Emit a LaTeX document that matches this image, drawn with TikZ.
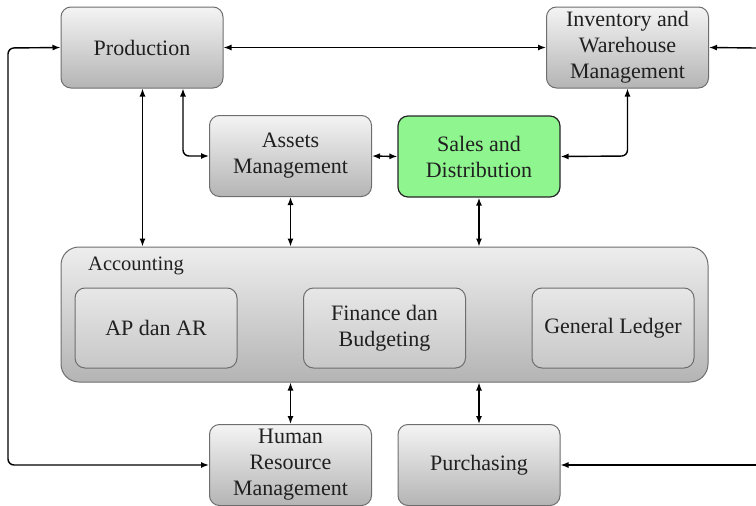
\documentclass[tikz,border=0pt]{standalone}
\usepackage{fontspec}
\setmainfont{LiberationSerif}[Extension=.ttf, UprightFont=*-Regular, BoldFont=*-Bold, ItalicFont=*-Italic, BoldItalicFont=*-BoldItalic]
\newfontfamily\boxfont{LiberationSerif}[Extension=.ttf, UprightFont=*-Regular]
\usetikzlibrary{arrows.meta}
\definecolor{boxtop}{HTML}{F4F4F4}
\definecolor{boxbot}{HTML}{B4B4B4}
\definecolor{boxline}{HTML}{6E6E6E}
\definecolor{salesfill}{HTML}{8FF58F}
\definecolor{inktext}{HTML}{202020}
\begin{document}
\begin{tikzpicture}[x=1pt,y=-1pt,
  every node/.style={font=\boxfont\fontsize{22}{26}\selectfont, text=inktext, align=center, inner sep=0pt},
  module/.style={draw=boxline, line width=1pt, rounded corners=10pt,
    top color=boxtop, bottom color=boxbot, minimum width=162pt, minimum height=81pt},
  focus/.style={draw=black!85, line width=1.2pt, rounded corners=10pt,
    fill=salesfill, minimum width=162pt, minimum height=81pt},
  group/.style={draw=boxline, line width=1pt, rounded corners=18pt,
    top color=boxtop!90!boxbot, bottom color=boxbot, minimum width=647pt, minimum height=135pt},
  submodule/.style={draw=boxline, line width=1pt, rounded corners=10pt,
    top color=boxtop!80!boxbot, bottom color=boxbot!70!boxtop, minimum width=162pt, minimum height=80pt},
  link/.style={line width=1.4pt, black, {Latex[length=8pt,width=6pt]}-{Latex[length=8pt,width=6pt]}},
  feed/.style={line width=1.4pt, black, -{Latex[length=8pt,width=6pt]}}]
\useasboundingbox (0,0) rectangle (756,506);

% top row
\node[module] (prod) at (142,47.5) {Production};
\node[module] (inv) at (627.5,47.5) {Inventory and\\Warehouse\\Management};

% middle row
\node[module] (assets) at (290.5,156) {Assets\\Management};
\node[focus] (sales) at (479,156.5) {Sales and\\Distribution};

% accounting group with its three parts
\node[group] (acc) at (384.5,314.5) {};
\node[anchor=west, font=\boxfont\fontsize{20.5}{24}\selectfont] (acclabel) at (88,266) {Accounting};
\node[submodule] (apar) at (156,328) {AP dan AR};
\node[submodule] (fin) at (384.5,328) {Finance dan\\Budgeting};
\node[submodule] (gl) at (613,328) {General Ledger};

% bottom row
\node[module] (hrm) at (290.5,465) {Human\\Resource\\Management};
\node[module] (purch) at (479,465) {Purchasing};

% free ends at the right border
\coordinate (rtop) at (756,48);
\coordinate (rbot) at (756,465);

% connectors
\draw[link] (prod.east) -- (inv.west);
\draw[feed] (rtop) -- (inv.east);
\draw[feed] (rbot) -- (purch.east);
\draw[link, rounded corners=6pt] (hrm.west) -- (8,465) -- (8,48) -- (prod.west);
\draw[link] (prod.south -| 142.5,0) -- (acc.north -| 142.5,0);
\draw[link, rounded corners=6pt] (prod.south -| 183,0) -- (183,156) -- (assets.west);
\draw[link] (assets.east) -- (sales.west);
\draw[link, rounded corners=6pt] (sales.east) -- (627.5,156) -- (inv.south);
\draw[link] (assets.south) -- (acc.north -| assets.south);
\draw[link] (sales.south) -- (acc.north -| sales.south);
\draw[link] (acc.south -| hrm.north) -- (hrm.north);
\draw[link] (acc.south -| purch.north) -- (purch.north);
\end{tikzpicture}
\end{document}
